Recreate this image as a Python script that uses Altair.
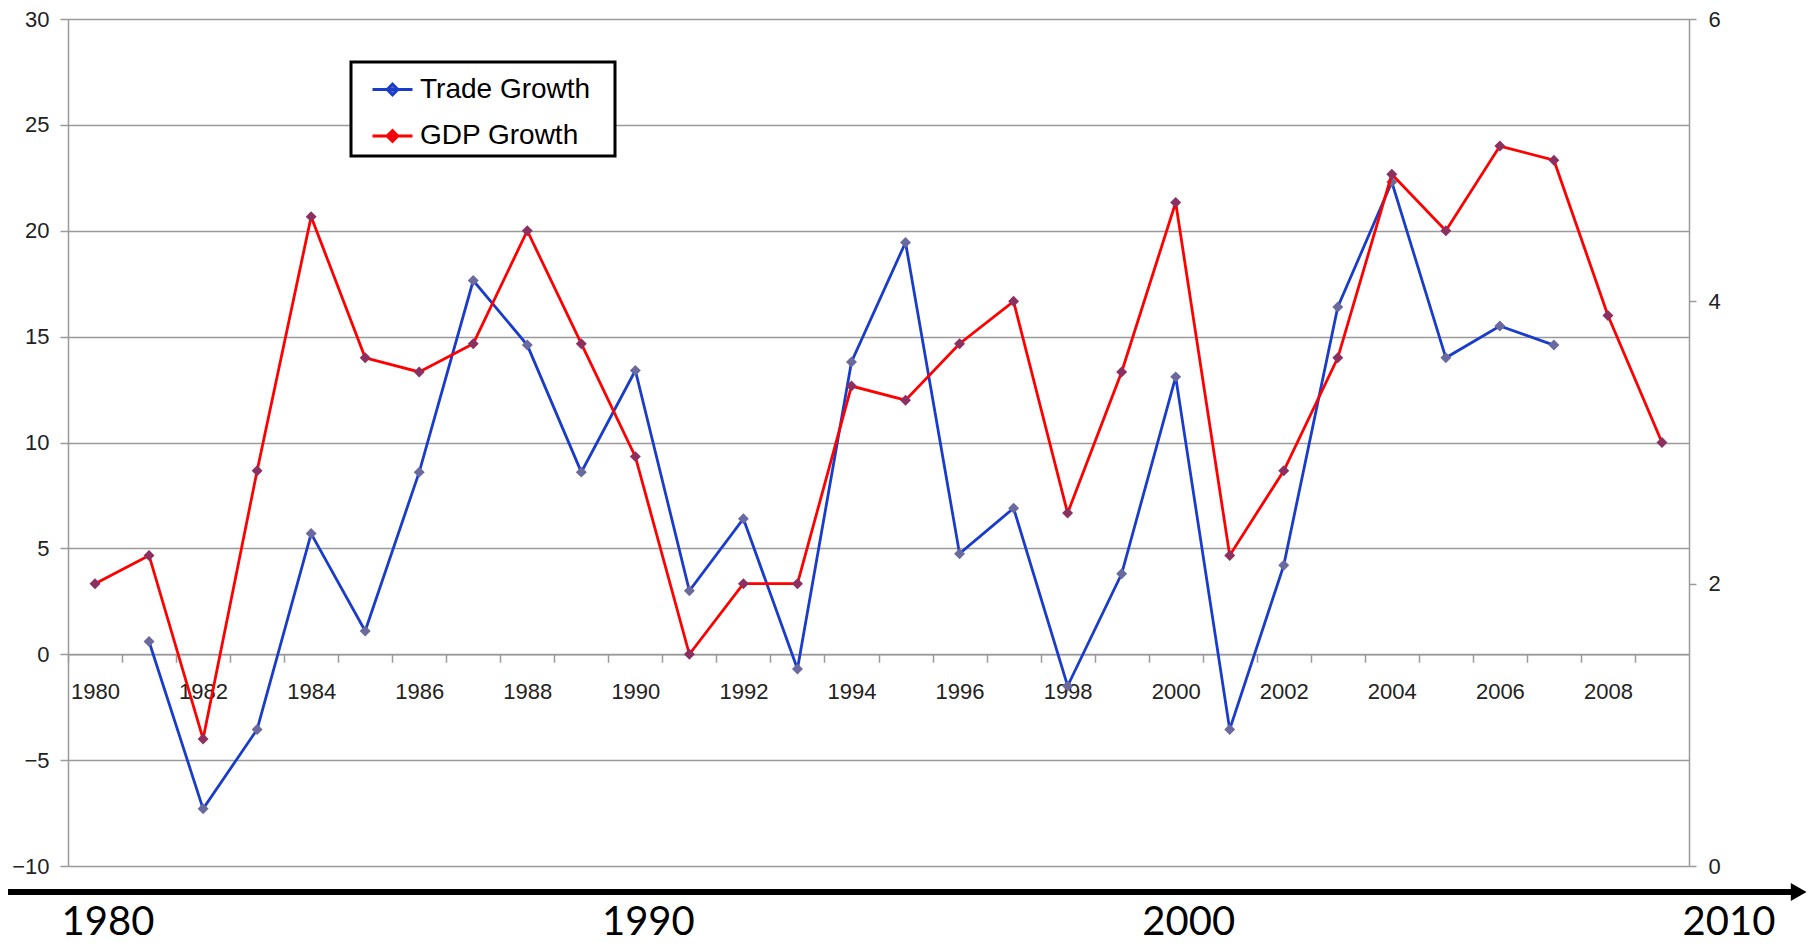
import altair as alt
import pandas as pd

# ---- data ----
years = list(range(1980, 2010))
trade_years = list(range(1981, 2008))
trade_growth = [0.6, -7.3, -3.55, 5.7, 1.1, 8.6, 17.65, 14.6, 8.6, 13.4,
                3.0, 6.4, -0.7, 13.8, 19.45, 4.75, 6.9, -1.5, 3.8, 13.1,
                -3.55, 4.2, 16.4, 22.3, 14.0, 15.5, 14.6]
gdp_years = list(range(1980, 2010))
gdp_growth = [2.0, 2.2, 0.9, 2.8, 4.6, 3.6, 3.5, 3.7, 4.5, 3.7,
              2.9, 1.5, 2.0, 2.0, 3.4, 3.3, 3.7, 4.0, 2.5, 3.5,
              4.7, 2.2, 2.8, 3.6, 4.9, 4.5, 5.1, 5.0, 3.9, 3.0]
series_names = ["Trade Growth", "GDP Growth"]
line_colors = ["#1A3CCB", "#FF0000"]
marker_colors = ["#6B6A9E", "#8B3060"]
left_ticks = [-10, -5, 0, 5, 10, 15, 20, 25, 30]
right_ticks = [0, 2, 4, 6]
era_labels = [1980, 1990, 2000, 2010]
arrow_start = [1978.39]
arrow_end = [2011.53]

W, H = 1621, 847
TOP = 11
GRID = "#9A9A9A"
FONT = "Liberation Sans"

trade_df = pd.DataFrame({"year": trade_years, "value": trade_growth, "series": series_names[0]})
gdp_df = pd.DataFrame({"year": gdp_years, "value": gdp_growth, "series": series_names[1]})
arrow_df = pd.DataFrame({"year": arrow_start, "year_end": arrow_end})
era_df = pd.DataFrame({"year": era_labels, "label": [str(v) for v in era_labels]})

x_scale = alt.Scale(domain=[1979.5, 2009.5], nice=False, zero=False)
yl_scale = alt.Scale(domain=[-10, 30], nice=False, zero=False)
yr_scale = alt.Scale(domain=[0, 6], nice=False, zero=True)
stroke_scale = alt.Scale(domain=series_names, range=line_colors)
fill_scale = alt.Scale(domain=series_names, range=marker_colors)

half = W / 30 / 2
x_axis = alt.Axis(values=years, tickOffset=-half, labelOffset=half,
                  labelExpr="datum.value % 2 == 0 ? '' + datum.value : ''",
                  offset=-(H * 10 / 40), grid=False, tickSize=8, tickColor=GRID,
                  tickWidth=1.5, domainColor=GRID, domainWidth=1.5,
                  labelFont=FONT, labelFontSize=22, labelColor="#222",
                  labelPadding=19, labelOverlap=False, labelFlush=False, title=None)
left_axis = alt.Axis(values=left_ticks, orient="left", grid=True, gridColor=GRID,
                     gridWidth=1.5, tickSize=8, tickColor=GRID, tickWidth=1.5,
                     domainColor=GRID, domainWidth=1.5, labelFont=FONT,
                     labelFontSize=22, labelColor="#222", labelPadding=11, title=None)
right_axis = alt.Axis(values=right_ticks, orient="right", grid=False, tickSize=7,
                      tickColor=GRID, tickWidth=1.5, domainColor=GRID, domainWidth=1.5,
                      labelFont=FONT, labelFontSize=22, labelColor="#222",
                      labelPadding=12, title=None)

# white (invisible) title on the right only widens the legend box
legend = alt.Legend(title=".", titleColor="white", titleOrient="right", titlePadding=16,
                    titleFontSize=10, orient="none", legendX=283, legendY=43,
                    symbolType="M-1,0L1,0M0,-0.27L0.27,0L0,0.27L-0.27,0Z",
                    symbolSize=1600, symbolStrokeWidth=2.8, symbolOffset=14,
                    labelOffset=6, padding=6, rowPadding=10.5, labelFont=FONT,
                    labelFontSize=28, labelColor="black", strokeColor="black",
                    fillColor="white", labelLimit=500)


def build(with_legend_stroke=True):
    tx = alt.X("year:Q", scale=x_scale, axis=x_axis)
    left_base = alt.Chart(trade_df).encode(x=tx, y=alt.Y("value:Q", scale=yl_scale, axis=left_axis))
    right_base = alt.Chart(gdp_df).encode(x=tx, y=alt.Y("value:Q", scale=yr_scale, axis=right_axis))

    def lines_and_points(base):
        ln = base.mark_line(strokeWidth=2.8).encode(
            stroke=alt.Stroke("series:N", scale=stroke_scale, legend=legend))
        pt = base.mark_point(shape="diamond", filled=True, size=120, opacity=1).encode(
            fill=alt.Fill("series:N", scale=fill_scale, legend=legend))
        return alt.layer(ln, pt)

    left = lines_and_points(left_base)
    right = lines_and_points(right_base)

    arrow_line = alt.Chart(arrow_df).mark_rule(color="black", strokeWidth=6).encode(
        x=alt.X("year:Q", scale=x_scale, axis=x_axis), x2="year_end:Q", y=alt.value(873))
    arrow_head = alt.Chart(arrow_df).mark_point(shape="triangle-right", filled=True,
                                                color="black", size=330, opacity=1).encode(
        x=alt.X("year_end:Q", scale=x_scale, axis=x_axis), y=alt.value(873))
    era_text = alt.Chart(era_df).mark_text(font="Lato", fontSize=40, color="black",
                                           baseline="middle", align="center", dx=13).encode(
        x=alt.X("year:Q", scale=x_scale, axis=x_axis), y=alt.value(904), text="label:N")

    chart = alt.layer(left, right, arrow_line, arrow_head, era_text).resolve_scale(
        y="independent").properties(
        width=W, height=H,
        autosize=alt.AutoSizeParams(type="none"),
        padding={"left": 60, "top": TOP, "right": 1800 - 60 - W, "bottom": 935 - TOP - H},
        background="white",
    ).configure_view(stroke=None)
    if with_legend_stroke:
        chart = chart.configure_legend(strokeWidth=3)
    return chart


try:
    chart = build(True)
    chart.to_dict()
except Exception:
    chart = build(False)

chart.save("out.html", embed_options={"renderer": "svg", "actions": False})
